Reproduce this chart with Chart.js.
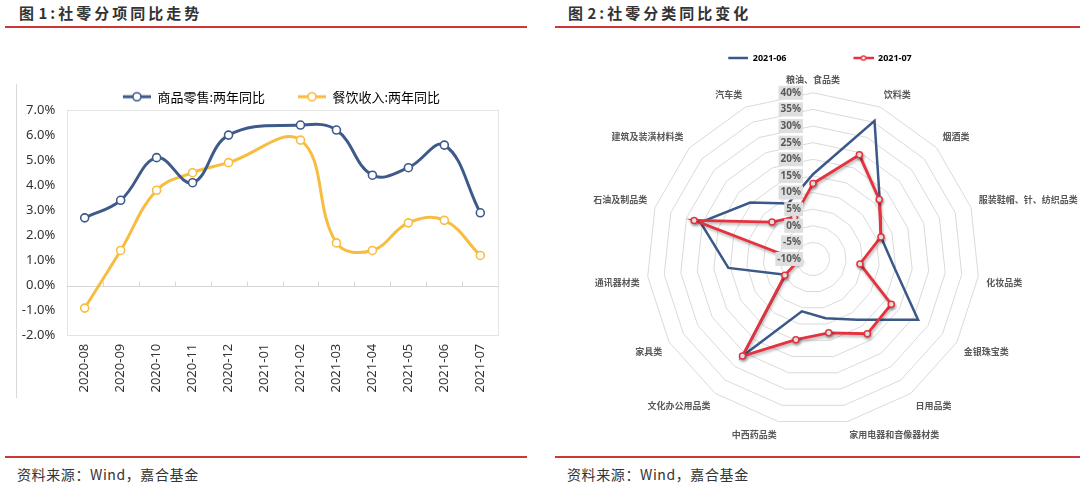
<!DOCTYPE html>
<html>
<head>
<meta charset="utf-8">
<script src="https://cdn.jsdelivr.net/npm/chart.js@4.4.0/dist/chart.umd.min.js"></script>
<style>
html,body{margin:0;padding:0;background:#fff;width:1080px;height:488px;overflow:hidden;position:relative;font-family:"Noto Sans CJK SC",sans-serif;}
.title{position:absolute;top:3px;line-height:20px;font-size:15px;font-weight:bold;color:#333;white-space:nowrap;letter-spacing:3px;word-spacing:-5px;}
.rl{position:absolute;height:2px;background:#cf3636;}
.src{position:absolute;top:464px;line-height:20px;font-size:14px;color:#333;white-space:nowrap;letter-spacing:0.6px;}
.vl{position:absolute;width:1px;background:#d9d9d9;}
canvas{position:absolute;}
</style>
</head>
<body>
<div class="title" style="left:19px">图 1:社零分项同比走势</div>
<div class="title" style="left:568px">图 2:社零分类同比变化</div>
<div class="rl" style="left:5px;width:522px;top:26px"></div>
<div class="rl" style="left:555px;width:525px;top:26px"></div>
<div class="vl" style="left:16px;top:84px;height:314px"></div>
<div class="rl" style="left:5px;width:522px;top:456px"></div>
<div class="rl" style="left:555px;width:525px;top:456px"></div>
<div class="src" style="left:17px">资料来源：Wind，嘉合基金</div>
<div class="src" style="left:567px">资料来源：Wind，嘉合基金</div>

<div id="w1" style="position:absolute;left:10px;top:80px;width:520px;height:325px"><canvas id="c1"></canvas></div>
<div id="w2" style="position:absolute;left:526px;top:0px;width:574px;height:448px"><canvas id="c2"></canvas></div>

<script>
// ---------------- data ----------------
const months = ['2020-08','2020-09','2020-10','2020-11','2020-12','2021-01','2021-02','2021-03','2021-04','2021-05','2021-06','2021-07'];
const goodsRetail    = [2.7, 3.4, 5.1, 4.1, 6.0, null, 6.4, 6.2, 4.4, 4.7, 5.6, 2.9];
const cateringIncome = [-0.9, 1.4, 3.8, 4.5, 4.9, null, 5.8, 1.7, 1.4, 2.5, 2.6, 1.2];
const leftSeriesNames = ['商品零售:两年同比', '餐饮收入:两年同比'];
const leftYMin = -2, leftYMax = 7, leftYStep = 1;

const categories = ['粮油、食品类','饮料类','烟酒类','服装鞋帽、针、纺织品类','化妆品类','金银珠宝类','日用品类','家用电器和音像器材类','中西药品类','文化办公用品类','家具类','通讯器材类','石油及制品类','建筑及装潢材料类','汽车类'];
const june2021 = [15.5, 35.5, 17.0, 11.5, 14.6, 26.5, 12.6, 8.2, 6.1, 26.1, -0.5, 15.6, 25.6, 15.4, 8.3];
const july2021 = [12.7, 24.3, 16.8, 11.5, 4.2, 17.2, 17.8, 12.7, 14.8, 26.1, -0.2, -5.6, 27.6, 6.6, 3.8];
const radarSeriesNames = ['2021-06', '2021-07'];
const radarMin = -10, radarMax = 40, radarStep = 5;

// ---------------- styling ----------------
const BLUE = '#3e5a8a', GOLD = '#f8bd40', RBLUE = '#3c5888', RED = '#e5323f';
Chart.defaults.font.family = '"Noto Sans", "Noto Sans CJK SC", sans-serif';
Chart.defaults.color = '#404040';
Chart.defaults.animation = false;

function makeIcon(color, lead, w, h, lineW, markR, markLW) {
  const c = document.createElement('canvas');
  c.width = lead + w; c.height = h;
  const x = c.getContext('2d');
  x.strokeStyle = color; x.lineWidth = lineW; x.lineCap = 'butt';
  x.beginPath(); x.moveTo(lead, h / 2); x.lineTo(lead + w, h / 2); x.stroke();
  if (markR > 0) {
    x.beginPath(); x.arc(lead + w / 2, h / 2, markR, 0, Math.PI * 2);
    x.fillStyle = '#fff'; x.fill(); x.lineWidth = markLW; x.stroke();
  }
  return c;
}

// place the (space-free) legend at a chosen centre
const legendPlace = {
  id: 'legendPlace',
  afterLayout(chart, args, opts) {
    const lg = chart.legend; if (!lg || !opts || opts.cx === undefined) return;
    const lab = chart.options.plugins.legend.labels;
    const pad = lab.padding, fs = lab.font.size;
    const w = lg.right - lg.left;
    const c = opts.cx - opts.lead / 2;
    lg.left = c - w / 2; lg.right = c + w / 2;
    lg.top = opts.cy - pad - fs / 2; lg.bottom = lg.top + fs + 2 * pad + 4;
    lg.height = lg.bottom - lg.top;
  }
};

// ---------------- left chart ----------------
const frame = {
  id: 'frame',
  beforeDatasetsDraw(chart) {
    const {ctx, chartArea: a, scales: {x, y}} = chart;
    ctx.save();
    ctx.strokeStyle = '#e3e3e3'; ctx.lineWidth = 1;
    ctx.strokeRect(Math.round(a.left) + 0.5, Math.round(a.top) + 0.5, Math.round(a.width) - 1, Math.round(a.height) - 1);
    const y0 = Math.round(y.getPixelForValue(0)) + 0.5;
    ctx.strokeStyle = '#d6d6d6';
    ctx.beginPath(); ctx.moveTo(a.left, y0); ctx.lineTo(a.right, y0);
    for (let i = 1; i < x.ticks.length; i++) {
      const xb = Math.round((x.getPixelForTick(i - 1) + x.getPixelForTick(i)) / 2) + 0.5;
      ctx.moveTo(xb, y0); ctx.lineTo(xb, y0 - 5);
    }
    ctx.stroke();
    ctx.restore();
  }
};

const iconL1 = makeIcon(BLUE, 23, 28, 12, 3, 4, 1.6);
const iconL2 = makeIcon(GOLD, 23, 28, 12, 3, 4, 1.6);

new Chart(document.getElementById('c1'), {
  type: 'line',
  data: {
    labels: months,
    datasets: [
      { label: leftSeriesNames[0], data: goodsRetail, borderColor: BLUE, backgroundColor: '#fff',
        borderWidth: 3, tension: 0.4, spanGaps: true, pointRadius: 4, pointBorderWidth: 1.6,
        pointBackgroundColor: '#fff', pointBorderColor: BLUE },
      { label: leftSeriesNames[1], data: cateringIncome, borderColor: GOLD, backgroundColor: '#fff',
        borderWidth: 3, tension: 0.4, spanGaps: true, pointRadius: 4, pointBorderWidth: 1.6,
        pointBackgroundColor: '#fff', pointBorderColor: GOLD }
    ]
  },
  options: {
    responsive: true, maintainAspectRatio: false,
    layout: { padding: { top: 29, right: 31.7, bottom: 0, left: 0 } },
    plugins: {
      legend: {
        position: 'top', maxHeight: 1,
        labels: {
          usePointStyle: true, pointStyleWidth: 51, padding: 10,
          font: { size: 13, family: '"Noto Sans CJK SC", sans-serif' }, color: '#333',
          generateLabels: () => [
            { text: leftSeriesNames[0], pointStyle: iconL1, fillStyle: BLUE, strokeStyle: BLUE, lineWidth: 0, datasetIndex: 0 },
            { text: leftSeriesNames[1], pointStyle: iconL2, fillStyle: GOLD, strokeStyle: GOLD, lineWidth: 0, datasetIndex: 1 }
          ]
        }
      },
      legendPlace: { cx: 281.5 - 10, cy: 96.7 - 80, lead: 23 },
      tooltip: { enabled: false }
    },
    scales: {
      x: {
        offset: true,
        grid: { display: false, drawTicks: false }, border: { display: false },
        ticks: { autoSkip: false, minRotation: 90, maxRotation: 90, padding: 8, font: { size: 13 }, color: '#333' },
        afterFit(s) { s.height = 325 - (335.7 - 80); }
      },
      y: {
        min: leftYMin, max: leftYMax,
        grid: { display: false, drawTicks: false }, border: { display: false },
        ticks: { stepSize: leftYStep, padding: 11.5, font: { size: 13 }, color: '#333',
                 callback: v => v.toFixed(1) + '%' },
        afterFit(s) { s.width = 66.7 - 10; }
      }
    }
  },
  plugins: [frame, legendPlace]
});

// ---------------- radar chart ----------------
const radarTickLabels = {
  id: 'radarTickLabels',
  afterDatasetsDraw(chart) {
    const s = chart.scales.r, ctx = chart.ctx;
    ctx.save();
    ctx.font = 'bold 10px "Noto Sans", "Noto Sans CJK SC", sans-serif';
    ctx.textAlign = 'right'; ctx.textBaseline = 'middle';
    const xr = s.xCenter - 12;
    s.ticks.forEach(t => {
      const y = s.yCenter - s.getDistanceFromCenterForValue(t.value);
      const txt = t.value + '%';
      const w = ctx.measureText(txt).width;
      ctx.fillStyle = '#dedede';
      ctx.fillRect(xr - w - 2, y - 7, w + 4, 14);
      ctx.fillStyle = '#595959';
      ctx.fillText(txt, xr, y);
    });
    ctx.restore();
  }
};
const redShadow = {
  id: 'redShadow',
  beforeDatasetDraw(chart, args) {
    if (args.index !== 1) return;
    const ctx = chart.ctx; ctx.save();
    ctx.shadowColor = 'rgba(0,0,0,0.3)'; ctx.shadowBlur = 3; ctx.shadowOffsetX = 1; ctx.shadowOffsetY = 2;
  },
  afterDatasetDraw(chart, args) {
    if (args.index !== 1) return;
    chart.ctx.restore();
  }
};

const iconR1 = makeIcon(RBLUE, 57, 20, 10, 2.5, 0, 0);
const iconR2 = makeIcon(RED, 57, 20, 10, 2.5, 2.2, 1.3);

new Chart(document.getElementById('c2'), {
  type: 'radar',
  data: {
    labels: categories,
    datasets: [
      { label: radarSeriesNames[0], data: june2021, borderColor: RBLUE, borderWidth: 2.5,
        backgroundColor: 'transparent', fill: false, pointRadius: 0, order: 2 },
      { label: radarSeriesNames[1], data: july2021, borderColor: RED, borderWidth: 2.8,
        backgroundColor: 'transparent', fill: false, pointRadius: 3, pointBorderWidth: 1.5,
        pointBackgroundColor: '#fff', pointBorderColor: RED, order: 1 }
    ]
  },
  options: {
    responsive: true, maintainAspectRatio: false,
    layout: { padding: { top: 72, bottom: 5, left: 0, right: 0 } },
    elements: { line: { tension: 0 } },
    plugins: {
      legend: {
        position: 'top', maxHeight: 1,
        labels: {
          usePointStyle: true, pointStyleWidth: 77, padding: 10,
          font: { size: 9, weight: 'bold' }, color: '#595959',
          generateLabels: () => [
            { text: radarSeriesNames[0], pointStyle: iconR1, fillStyle: RBLUE, strokeStyle: RBLUE, lineWidth: 0, datasetIndex: 0 },
            { text: radarSeriesNames[1], pointStyle: iconR2, fillStyle: RED, strokeStyle: RED, lineWidth: 0, datasetIndex: 1 }
          ]
        }
      },
      legendPlace: { cx: 820 - 526, cy: 58, lead: 57 },
      tooltip: { enabled: false }
    },
    scales: {
      r: {
        min: radarMin, max: radarMax,
        ticks: { stepSize: radarStep, display: false },
        angleLines: { display: false },
        grid: { color: '#dadada', lineWidth: 1 },
        pointLabels: { padding: 8, font: { size: 9, weight: 'bold', family: '"Noto Sans CJK SC", sans-serif' }, color: '#595959' }
      }
    }
  },
  plugins: [legendPlace, radarTickLabels, redShadow]
});
</script>
</body>
</html>
